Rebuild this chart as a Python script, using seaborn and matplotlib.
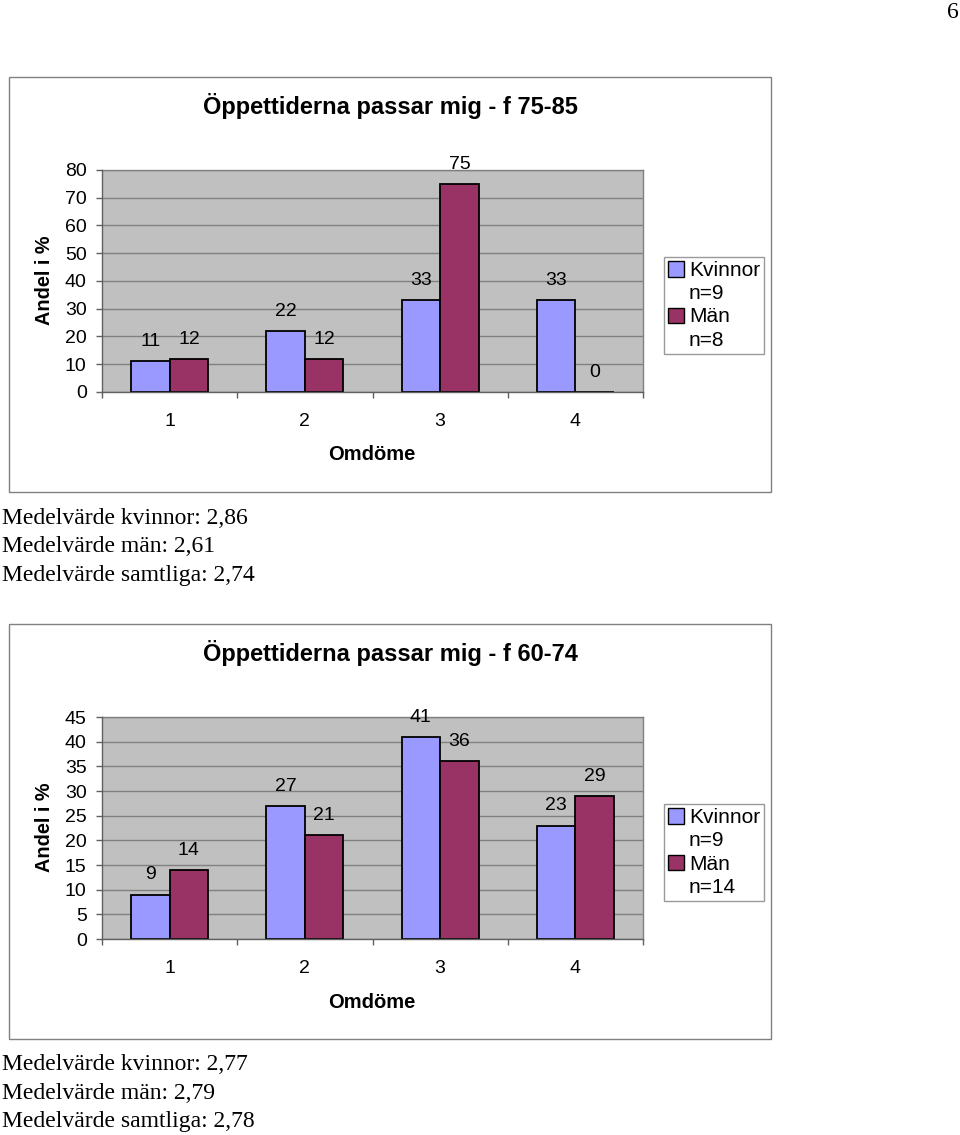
import matplotlib
matplotlib.use("Agg")
import matplotlib.pyplot as plt
import seaborn as sns
import pandas as pd
from matplotlib.patches import Rectangle, Patch

# data
categories = ["1", "2", "3", "4"]
kvinnor_75 = [11, 22, 33, 33]
man_75 = [12, 12, 75, 0]
kvinnor_60 = [9, 27, 41, 23]
man_60 = [14, 21, 36, 29]
titles = ["Öppettiderna passar mig - f 75-85", "Öppettiderna passar mig - f 60-74"]
n_kvinnor = [9, 9]
n_man = [8, 14]
means_75 = ["Medelvärde kvinnor: 2,86", "Medelvärde män: 2,61", "Medelvärde samtliga: 2,74"]
means_60 = ["Medelvärde kvinnor: 2,77", "Medelvärde män: 2,79", "Medelvärde samtliga: 2,78"]

W, H = 960, 1135
C_KV = "#9999FF"
C_MA = "#993366"
SANS = "Liberation Sans"
SERIF = "Liberation Serif"

sns.set_theme(style="white")
plt.rcParams["font.family"] = [SANS, "DejaVu Sans"]
plt.rcParams["text.color"] = "black"
plt.rcParams["axes.labelcolor"] = "black"
plt.rcParams["xtick.color"] = "black"
plt.rcParams["ytick.color"] = "black"


def fx(px):
    return px / W


def fy(py):
    return 1 - py / H


def draw_chart(fig, top, kv, ma, ymax, ystep, title, nk, nm, means):
    # outer chart frame, drawn behind the axes
    fig.patches.append(Rectangle((fx(9), fy(top + 415)), fx(762), 415 / H,
                                 transform=fig.transFigure, facecolor="white",
                                 edgecolor="#808080", linewidth=1, zorder=-5))
    ax = fig.add_axes([fx(102), fy(top + 315), fx(541), 222 / H])
    df = pd.DataFrame({
        "Omdöme": categories * 2,
        "Andel": kv + ma,
        "Kön": ["Kvinnor"] * 4 + ["Män"] * 4,
    })
    sns.barplot(data=df, x="Omdöme", y="Andel", hue="Kön", palette=[C_KV, C_MA],
                width=0.57, edgecolor="black", linewidth=1.3, saturation=1,
                legend=False, ax=ax, zorder=3)
    for cont in ax.containers:
        ax.bar_label(cont, fmt="%g", padding=8, fontsize=14, color="black")

    ax.set_facecolor("#C0C0C0")
    ax.set_xlim(-0.5, 3.5)
    ax.set_ylim(0, ymax)
    ax.set_yticks(range(0, ymax + 1, ystep))
    ax.yaxis.grid(True, color="#808080", linewidth=1)
    ax.set_axisbelow(True)
    for s in ["top", "right"]:
        ax.spines[s].set_color("#808080")
        ax.spines[s].set_linewidth(1)
    for s in ["left", "bottom"]:
        ax.spines[s].set_color("#606060")
        ax.spines[s].set_linewidth(1)
        ax.spines[s].set_zorder(4)
    ax.set_xticks([-0.5, 0.5, 1.5, 2.5, 3.5], minor=True)
    ax.tick_params(axis="x", which="major", length=0, pad=15, labelsize=14,
                   labelcolor="black")
    ax.tick_params(axis="x", which="minor", length=4, width=1, color="#606060",
                   direction="out", bottom=True)
    ax.tick_params(axis="y", length=4, width=1, color="#606060", direction="out",
                   left=True, pad=7, labelsize=14, labelcolor="black")
    ax.set_xlabel("")
    ax.set_ylabel("")

    fig.text(fx(390), fy(top + 29), title, ha="center", va="center",
             fontsize=17, fontweight="bold")
    fig.text(fx(44), fy(top + 203), "Andel i %", ha="center", va="center",
             rotation=90, fontsize=14.3, fontweight="bold")
    fig.text(fx(372), fy(top + 378), "Omdöme", ha="center", va="center",
             fontsize=14.5, fontweight="bold")

    blank = Patch(facecolor="none", edgecolor="none")
    handles = [Patch(facecolor=C_KV, edgecolor="black"), blank,
               Patch(facecolor=C_MA, edgecolor="black"), blank]
    labels = ["Kvinnor", f"n={nk}", "Män", f"n={nm}"]
    leg = fig.legend(handles, labels, loc="upper left",
                     bbox_to_anchor=(fx(664), fy(top + 180)),
                     fontsize=15, frameon=True, fancybox=False,
                     handlelength=0.75, handleheight=0.75, handletextpad=0.25,
                     labelspacing=0.2, borderpad=0.2, borderaxespad=0)
    leg.get_frame().set_edgecolor("#808080")
    leg.get_frame().set_linewidth(1)

    for i, line in enumerate(means):
        fig.text(fx(2), fy(top + 441 + i * 28.5), line, ha="left", va="center",
                 fontsize=17, family=SERIF)
    return ax


fig = plt.figure(figsize=(W / 100, H / 100), dpi=100)
fig.text(fx(953), fy(13), "6", ha="center", va="center", fontsize=17, family=SERIF)

draw_chart(fig, 77, kvinnor_75, man_75, 80, 10, titles[0],
           n_kvinnor[0], n_man[0], means_75)
draw_chart(fig, 624, kvinnor_60, man_60, 45, 5, titles[1],
           n_kvinnor[1], n_man[1], means_60)

fig.savefig("out.png", dpi=100)
